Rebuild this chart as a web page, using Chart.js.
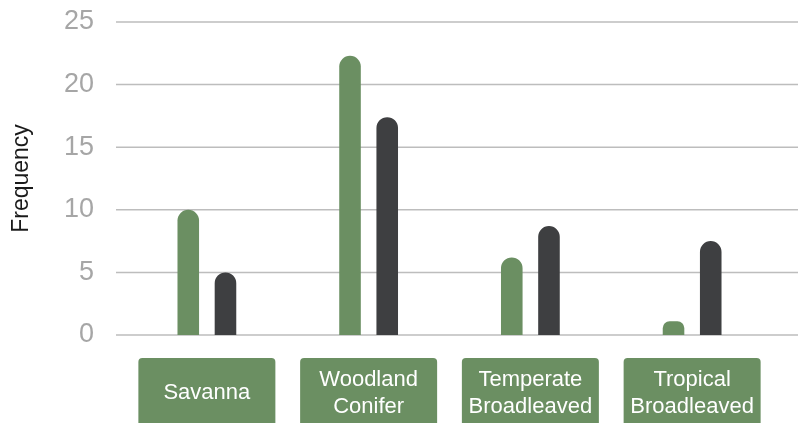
<!DOCTYPE html>
<html>
<head>
<meta charset="utf-8">
<script src="https://cdn.jsdelivr.net/npm/chart.js"></script>
<style>
  html, body { margin: 0; padding: 0; background: #fff; }
  #wrap { width: 798px; height: 423px; }
</style>
</head>
<body>
<div id="wrap"><canvas id="chartBiomas"></canvas></div>
<script>
var categorias = [["Savanna"], ["Woodland", "Conifer"], ["Temperate", "Broadleaved"], ["Tropical", "Broadleaved"]];
var serieVerde = [10, 22.3, 6.2, 1.1];
var serieEscura = [5, 17.4, 8.7, 7.5];
var ticksY = [0, 5, 10, 15, 20, 25];

var verde = '#6b8f62';
var escuro = '#3e3f41';

// linhas de grade que vao alem da area do grafico
var gradePlugin = {
  id: 'grade',
  beforeDatasetsDraw: function (chart) {
    var ctx = chart.ctx, y = chart.scales.y;
    ctx.save();
    ctx.strokeStyle = '#bdbdbd';
    ctx.lineWidth = 1.5;
    ticksY.forEach(function (t) {
      var py = y.getPixelForValue(t);
      ctx.beginPath();
      ctx.moveTo(116, py);
      ctx.lineTo(chart.width, py);
      ctx.stroke();
    });
    ctx.restore();
  }
};

// caixas verdes com os nomes das categorias
var caixasPlugin = {
  id: 'caixas',
  afterDraw: function (chart) {
    var ctx = chart.ctx, x = chart.scales.x;
    ctx.save();
    categorias.forEach(function (linhas, i) {
      var cx = x.getPixelForValue(i);
      ctx.fillStyle = verde;
      ctx.beginPath();
      ctx.roundRect(cx - 68.5, 358, 137, 70, [4, 4, 0, 0]);
      ctx.fill();
      ctx.fillStyle = '#ffffff';
      ctx.font = '22px "Liberation Sans", Arial, sans-serif';
      ctx.textAlign = 'center';
      ctx.textBaseline = 'middle';
      if (linhas.length == 1) {
        ctx.fillText(linhas[0], cx, 393);
      } else {
        ctx.fillText(linhas[0], cx, 380);
        ctx.fillText(linhas[1], cx, 407);
      }
    });
    ctx.restore();
  }
};

function plot() {
  var ctxBiomas = document.getElementById('chartBiomas');
  new Chart(ctxBiomas, {
    type: 'bar',
    data: {
      labels: categorias,
      datasets: [{
        data: serieVerde,
        backgroundColor: verde,
        borderRadius: 11,
        barPercentage: 0.58,
        categoryPercentage: 0.46
      }, {
        data: serieEscura,
        backgroundColor: escuro,
        borderRadius: 11,
        barPercentage: 0.58,
        categoryPercentage: 0.46
      }]
    },
    options: {
      responsive: true,
      maintainAspectRatio: false,
      animation: false,
      layout: { padding: { left: 0, right: 25, top: 22, bottom: 0 } },
      plugins: { legend: { display: false }, tooltip: { enabled: false } },
      scales: {
        x: {
          grid: { display: false },
          border: { display: false },
          ticks: { display: false },
          afterFit: function (s) { s.height = 88; }
        },
        y: {
          min: 0,
          max: 25,
          afterFit: function (s) { s.width = 126; s.paddingTop = 0; s.paddingBottom = 0; },
          grid: { display: false, drawTicks: false },
          border: { display: false },
          ticks: {
            stepSize: 5,
            padding: 32,
            color: '#a6a6a6',
            font: { family: '"Liberation Sans", Arial, sans-serif', size: 27 }
          },
          title: {
            display: true,
            text: 'Frequency',
            color: '#1a1a1a',
            padding: { top: 8, bottom: 0 },
            font: { family: '"Liberation Sans", Arial, sans-serif', size: 23 }
          }
        }
      }
    },
    plugins: [gradePlugin, caixasPlugin]
  });
}

plot();
</script>
</body>
</html>
